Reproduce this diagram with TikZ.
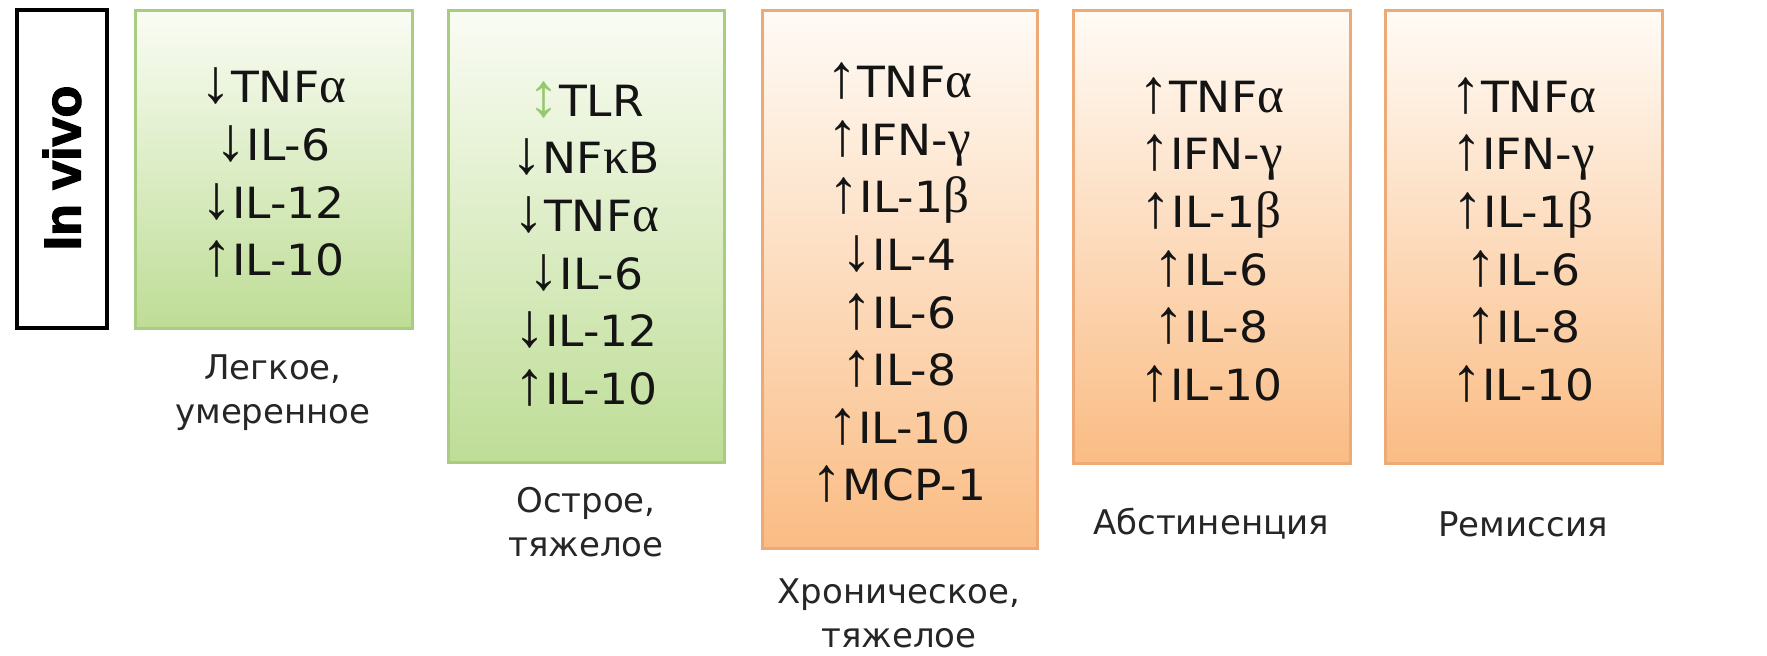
\documentclass[tikz,border=0pt]{standalone}
\usepackage{fontspec}
\newfontfamily\cyto[FakeStretch=1.06]{DejaVu Sans}
\newfontfamily\capf{DejaVu Sans}
\newfontfamily\serf{Liberation Serif}
\newfontfamily\heavy[BoldFeatures={FakeBold=2.5}]{Liberation Sans}
\definecolor{gtop}{RGB}{250,252,244}
\definecolor{gbot}{RGB}{190,221,150}
\definecolor{gborder}{RGB}{168,204,128}
\definecolor{otop}{RGB}{255,251,246}
\definecolor{obot}{RGB}{250,188,132}
\definecolor{oborder}{RGB}{238,170,118}
\definecolor{tlrgreen}{RGB}{150,200,110}
\newcommand\ArrGlyph[1]{\smash{\serf\fontsize{31}{31}\selectfont #1}}
\newcommand\UpA{{\ArrGlyph{↑}}}
\newcommand\DnA{{\ArrGlyph{↓}}}
\newcommand\UdA{{\color{tlrgreen}\ArrGlyph{↕}}}
\newcommand\gr[1]{\smash{\serf\fontsize{25.5}{25.5}\selectfont #1}}
\begin{document}
\begin{tikzpicture}[x=0.5pt,y=-0.5pt,
  gbox/.style={draw=gborder, line width=1.5pt, top color=gtop, bottom color=gbot},
  obox/.style={draw=oborder, line width=1.5pt, top color=otop, bottom color=obot},
  cyt/.style={font=\cyto\fontsize{21.5}{28.8}\selectfont, align=center, inner sep=0pt, text=black!92},
  capt/.style={font=\capf\fontsize{17}{22}\selectfont, align=center, inner sep=0pt, text=black!85}]
\useasboundingbox[fill=white] (0,0) rectangle (1767,655);
% In vivo label
\draw[line width=2pt] (17,10) rectangle (107,328);
\node[rotate=90, font=\heavy\bfseries\fontsize{26}{26}\selectfont, inner sep=0pt] (invivo) at (62,168) {In vivo};
% boxes
\draw[gbox] (135,10) rectangle (412,328);
\draw[gbox] (448,10) rectangle (724,462);
\draw[obox] (762,10) rectangle (1037,548);
\draw[obox] (1073,10) rectangle (1350,463);
\draw[obox] (1385,10) rectangle (1662,463);
% contents
\node[cyt] (t1) at (273,174) {\DnA TNF\gr{α}\\ \DnA IL-6\\ \DnA IL-12\\ \UpA IL-10};
\node[cyt] (t2) at (586,245) {\UdA TLR\\ \DnA NF\gr{κ}B\\ \DnA TNF\gr{α}\\ \DnA IL-6\\ \DnA IL-12\\ \UpA IL-10};
\node[cyt] (t3) at (899,284) {\UpA TNF\gr{α}\\ \UpA IFN-\gr{γ}\\ \UpA IL-1\gr{β}\\ \DnA IL-4\\ \UpA IL-6\\ \UpA IL-8\\ \UpA IL-10\\ \UpA MCP-1};
\node[cyt] (t4) at (1211,241) {\UpA TNF\gr{α}\\ \UpA IFN-\gr{γ}\\ \UpA IL-1\gr{β}\\ \UpA IL-6\\ \UpA IL-8\\ \UpA IL-10};
\node[cyt] (t5) at (1523,241) {\UpA TNF\gr{α}\\ \UpA IFN-\gr{γ}\\ \UpA IL-1\gr{β}\\ \UpA IL-6\\ \UpA IL-8\\ \UpA IL-10};
% captions
\node[capt] (c1) at (273,393) {Легкое,\\умеренное};
\node[capt] (c2) at (586,522) {Острое,\\тяжелое};
\node[capt] (c3) at (899,613) {Хроническое,\\тяжелое};
\node[capt] (c4) at (1211,524) {Абстиненция};
\node[capt] (c5) at (1523,524) {Ремиссия};
\end{tikzpicture}
\end{document}
